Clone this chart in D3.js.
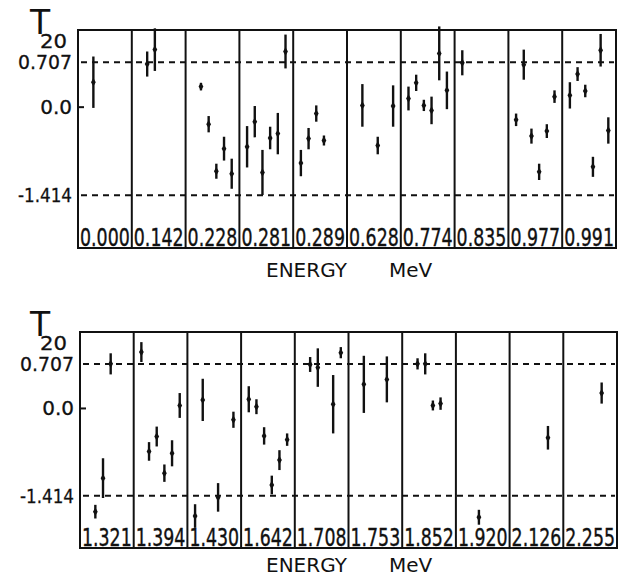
<!DOCTYPE html>
<html>
<head>
<meta charset="utf-8">
<script src="https://cdn.jsdelivr.net/npm/d3@7"></script>
<style>
  body { margin: 0; background: #fff; }
  svg { display: block; font-family: "DejaVu Sans", sans-serif; }
</style>
</head>
<body>
<svg id="chart" width="621" height="576"></svg>
<script>
// T20 values per energy level
// slot = angle position inside each energy box (1..6)
const topEnergies = ["0.000", "0.142", "0.228", "0.281", "0.289", "0.628", "0.774", "0.835", "0.977", "0.991"];
const topSlots = [[2], [2, 3], [2, 3, 4, 5, 6], [1, 2, 3, 4, 5, 6], [1, 2, 3, 4], [2, 4, 6], [1, 2, 3, 4, 5, 6], [1], [1, 2, 3, 4, 5, 6], [1, 2, 3, 4, 5, 6]];
const topT20 = [[0.39], [0.68, 0.91], [0.32, -0.28, -1.03, -0.67, -1.07], [-0.64, -0.24, -1.05, -0.50, -0.43, 0.88], [-0.90, -0.51, -0.11, -0.54], [0.02, -0.62, 0.01], [0.13, 0.38, 0.02, -0.06, 0.85, 0.26], [0.70], [-0.21, 0.67, -0.47, -1.04, -0.39, 0.16], [0.18, 0.52, 0.25, -0.96, 0.90, -0.38]];
const topErr = [[0.41], [0.20, 0.34], [0.06, 0.13, 0.12, 0.19, 0.24], [0.33, 0.25, 0.36, 0.18, 0.33, 0.27], [0.21, 0.17, 0.13, 0.08], [0.34, 0.14, 0.33], [0.19, 0.13, 0.09, 0.22, 0.43, 0.30], [0.20], [0.10, 0.24, 0.12, 0.13, 0.11, 0.10], [0.21, 0.11, 0.10, 0.16, 0.26, 0.21]];

const bottomEnergies = ["1.321", "1.394", "1.430", "1.642", "1.708", "1.753", "1.852", "1.920", "2.126", "2.255"];
const bottomSlots = [[2, 3, 4], [1, 2, 3, 4, 5, 6], [1, 2, 4, 6], [1, 2, 3, 4, 5, 6], [2, 3, 5, 6], [2, 5], [2, 3, 4, 5], [3], [5], [5]];
const bottomT20 = [[-1.67, -1.13, 0.71], [0.90, -0.70, -0.46, -1.05, -0.73, 0.04], [-1.74, 0.13, -1.44, -0.19], [0.14, 0.02, -0.45, -1.24, -0.84, -0.51], [0.70, 0.65, 0.06, 0.89], [0.38, 0.46], [0.71, 0.71, 0.04, 0.07], [-1.76], [-0.48], [0.24]];
const bottomErr = [[0.11, 0.32, 0.17], [0.16, 0.15, 0.16, 0.14, 0.21, 0.20], [0.19, 0.34, 0.23, 0.13], [0.21, 0.12, 0.14, 0.15, 0.16, 0.10], [0.12, 0.31, 0.47, 0.09], [0.46, 0.37], [0.09, 0.17, 0.08, 0.10], [0.12], [0.19], [0.17]];

const tickValues = [0.707, 0.0, -1.414];
const tickLabels = ["0.707", "0.0", "-1.414"];
const dashedValues = [0.707, -1.414];
const yDomain = [-2.255, 1.223];

const ink = "#111";
const svg = d3.select("#chart");

function drawRow(box, energies, slots, values, errs) {
  const g = svg.append("g");

  const x = d3.scaleBand()
    .domain(energies)
    .range([box.left, box.right])
    .padding(0);

  const y = d3.scaleLinear()
    .domain(yDomain)
    .range([box.bottom, box.top]);

  // position of an angle slot inside one energy box
  const slotX = d3.scaleLinear().domain([0, 7]).range([0, x.bandwidth()]);

  // dashed reference lines
  g.selectAll("line.ref")
    .data(dashedValues)
    .enter()
    .append("line")
    .attr("x1", box.left + 3)
    .attr("x2", box.right - 2)
    .attr("y1", d => y(d))
    .attr("y2", d => y(d))
    .attr("stroke", ink)
    .attr("stroke-width", 2)
    .attr("stroke-dasharray", "6,5");

  // left ticks / labels
  const axis = d3.axisLeft(y)
    .tickValues(tickValues)
    .tickSize(-6)
    .tickFormat((d, i) => tickLabels[i]);

  const ax = g.append("g")
    .attr("transform", `translate(${box.left},0)`)
    .call(axis);
  ax.select(".domain").remove();
  ax.selectAll(".tick line")
    .attr("stroke", ink)
    .attr("stroke-width", 2)
    .attr("opacity", d => d === 0 ? 1 : 0);
  ax.selectAll(".tick text")
    .attr("x", -6)
    .attr("fill", ink)
    .attr("stroke", ink)
    .attr("stroke-width", 0.3)
    .style("font-size", "20px")
    .style("font-family", "DejaVu Sans")
    .each(function () {
      if (this.getComputedTextLength() > 56) {
        d3.select(this).attr("textLength", 54).attr("lengthAdjust", "spacingAndGlyphs");
      }
    });

  // box dividers
  g.selectAll("line.div")
    .data(energies.slice(1))
    .enter()
    .append("line")
    .attr("x1", d => x(d))
    .attr("x2", d => x(d))
    .attr("y1", box.top)
    .attr("y2", box.bottom)
    .attr("stroke", ink)
    .attr("stroke-width", 2);

  // frame
  g.append("rect")
    .attr("x", box.left)
    .attr("y", box.top)
    .attr("width", box.right - box.left)
    .attr("height", box.bottom - box.top)
    .attr("fill", "none")
    .attr("stroke", ink)
    .attr("stroke-width", 2);

  // energy labels inside each box
  g.selectAll("text.energy")
    .data(energies)
    .enter()
    .append("text")
    .attr("x", d => x(d) + 2)
    .attr("y", box.bottom - 2)
    .attr("textLength", x.bandwidth() - 4)
    .attr("lengthAdjust", "spacingAndGlyphs")
    .attr("fill", ink)
    .attr("stroke", ink)
    .attr("stroke-width", 0.4)
    .style("font-size", "24px")
    .text(d => d);

  // data points with error bars
  const pts = [];
  energies.forEach((e, i) => {
    slots[i].forEach((s, j) => {
      pts.push({ e: e, s: s, v: values[i][j], err: errs[i][j] });
    });
  });

  const pg = g.selectAll("g.pt")
    .data(pts)
    .enter()
    .append("g")
    .attr("transform", d => `translate(${x(d.e) + slotX(d.s)},0)`);

  pg.append("line")
    .attr("y1", d => y(d.v + d.err))
    .attr("y2", d => y(d.v - d.err))
    .attr("stroke", ink)
    .attr("stroke-width", 2.4);

  pg.append("path")
    .attr("transform", d => `translate(0,${y(d.v)})`)
    .attr("d", d3.symbol().type(d3.symbolDiamond).size(20))
    .attr("fill", ink);

  // T20 label
  g.append("text")
    .attr("x", 30)
    .attr("y", box.top + 4)
    .attr("fill", ink)
    .style("font-size", "33px")
    .text("T");
  g.append("text")
    .attr("x", 40)
    .attr("y", box.top + 17.5)
    .attr("textLength", 27)
    .attr("lengthAdjust", "spacingAndGlyphs")
    .attr("fill", ink)
    .attr("stroke", ink)
    .attr("stroke-width", 0.3)
    .style("font-size", "19px")
    .text("20");

  // axis title
  g.append("text")
    .attr("x", 266)
    .attr("y", box.titleY)
    .attr("fill", ink)
    .style("font-size", "20px")
    .text("ENERGY");
  g.append("text")
    .attr("x", 389)
    .attr("y", box.titleY)
    .attr("fill", ink)
    .style("font-size", "20px")
    .text("MeV");
}

drawRow({ left: 78, right: 616, top: 30, bottom: 248, titleY: 277 }, topEnergies, topSlots, topT20, topErr);
drawRow({ left: 80, right: 617, top: 332, bottom: 548, titleY: 572 }, bottomEnergies, bottomSlots, bottomT20, bottomErr);
</script>
</body>
</html>
